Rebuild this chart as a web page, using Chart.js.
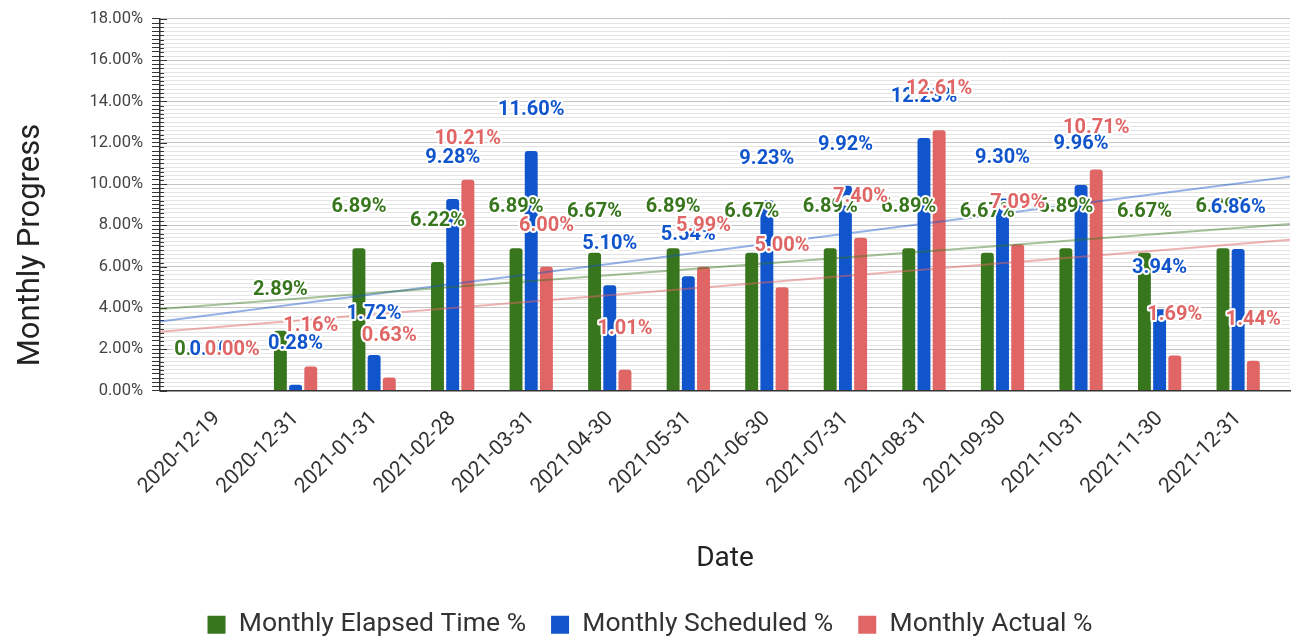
<!DOCTYPE html>
<html lang="en">
<head>
    <meta charset="UTF-8">
    <title>Monthly Progress</title>
    <script src="https://cdn.jsdelivr.net/npm/chart.js"></script>
    <style>
        body {
            margin: 0;
            background-color: #fff;
            font-family: Roboto, sans-serif;
        }

        .chart-container {
            position: relative;
            width: 1297px;
            height: 640px;
        }
    </style>
</head>
<body>
    <div class="chart-container">
        <canvas id="progressChart"></canvas>
    </div>
    <script>
        // Data
        const dates = ['2020-12-19', '2020-12-31', '2021-01-31', '2021-02-28', '2021-03-31', '2021-04-30', '2021-05-31',
            '2021-06-30', '2021-07-31', '2021-08-31', '2021-09-30', '2021-10-31', '2021-11-30', '2021-12-31'];
        const elapsed = [0.00, 2.89, 6.89, 6.22, 6.89, 6.67, 6.89, 6.67, 6.89, 6.89, 6.67, 6.89, 6.67, 6.89];
        const scheduled = [0.00, 0.28, 1.72, 9.28, 11.60, 5.10, 5.54, 9.23, 9.92, 12.23, 9.30, 9.96, 3.94, 6.86];
        const actual = [0.00, 1.16, 0.63, 10.21, 6.00, 1.01, 5.99, 5.00, 7.40, 12.61, 7.09, 10.71, 1.69, 1.44];

        // Trendline values at the left and right edge of the plot
        const elapsedTrend = [3.95, 8.07];
        const scheduledTrend = [3.34, 10.35];
        const actualTrend = [2.85, 7.30];

        const yTitle = 'Monthly Progress';
        const xMin = -0.726;
        const xMax = 13.66;

        const isMajor = v => Math.abs(v / 2 - Math.round(v / 2)) < 1e-6;

        // value labels above bars, with a white halo
        const valueLabels = {
            id: 'valueLabels',
            beforeDatasetsDraw(chart) {
                // small tick marks crossing into the plot
                const { ctx } = chart;
                const y = chart.scales.y;
                ctx.save();
                ctx.strokeStyle = '#333';
                ctx.lineWidth = 1;
                y.ticks.forEach(t => {
                    const py = Math.round(y.getPixelForValue(t.value)) + 0.5;
                    ctx.beginPath();
                    ctx.moveTo(y.right, py);
                    ctx.lineTo(y.right + (isMajor(t.value) ? 7 : 4), py);
                    ctx.stroke();
                });
                ctx.restore();
            },
            afterDatasetsDraw(chart) {
                const { ctx } = chart;
                ctx.save();
                ctx.font = 'bold 20px Roboto';
                ctx.textAlign = 'center';
                ctx.textBaseline = 'middle';
                ctx.lineJoin = 'round';
                ctx.lineWidth = 4;
                ctx.strokeStyle = '#fff';
                chart.data.datasets.forEach((ds, i) => {
                    if (ds.type !== 'bar') return;
                    chart.getDatasetMeta(i).data.forEach((bar, j) => {
                        const text = ds.data[j].y.toFixed(2) + '%';
                        const ty = bar.y - 41;
                        ctx.strokeText(text, bar.x, ty);
                        ctx.fillStyle = ds.backgroundColor;
                        ctx.fillText(text, bar.x, ty);
                    });
                });
                ctx.restore();
            },
            afterDraw(chart) {
                // y axis title, sitting a bit below the plot's middle like the original
                const { ctx } = chart;
                ctx.save();
                ctx.translate(31, 245);
                ctx.rotate(-Math.PI / 2);
                ctx.font = '31px Roboto';
                ctx.fillStyle = '#222';
                ctx.textAlign = 'center';
                ctx.textBaseline = 'middle';
                ctx.fillText(yTitle, 0, 0);
                ctx.restore();
            }
        };

        function barSet(label, values, color) {
            return {
                type: 'bar',
                label: label,
                data: values.map((v, i) => ({ x: i, y: v })),
                backgroundColor: color,
                borderRadius: 3,
                barPercentage: 0.85,
                categoryPercentage: 0.58,
                order: 1
            };
        }

        function trendSet(ends, color) {
            return {
                type: 'line',
                label: 'trend',
                data: [{ x: xMin, y: ends[0] }, { x: xMax, y: ends[1] }],
                borderColor: color,
                borderWidth: 2,
                pointRadius: 0,
                order: 0
            };
        }

        const ctx = document.getElementById('progressChart').getContext('2d');
        const chart = new Chart(ctx, {
            type: 'bar',
            data: {
                datasets: [
                    barSet('Monthly Elapsed Time %', elapsed, '#38761d'),
                    barSet('Monthly Scheduled %', scheduled, '#1155cc'),
                    barSet('Monthly Actual %', actual, '#e06666'),
                    trendSet(elapsedTrend, 'rgba(56, 118, 29, 0.45)'),
                    trendSet(scheduledTrend, 'rgba(17, 85, 204, 0.45)'),
                    trendSet(actualTrend, 'rgba(224, 102, 102, 0.5)')
                ]
            },
            options: {
                responsive: true,
                maintainAspectRatio: false,
                animation: false,
                layout: {
                    padding: { top: 17, left: 10, right: 7, bottom: -8 }
                },
                plugins: {
                    tooltip: { enabled: false },
                    legend: {
                        position: 'bottom',
                        labels: {
                            filter: item => item.text !== 'trend',
                            boxWidth: 18,
                            boxHeight: 18,
                            padding: 25,
                            color: '#333',
                            font: { family: 'Roboto', size: 26.5 }
                        }
                    }
                },
                scales: {
                    x: {
                        type: 'linear',
                        min: xMin,
                        max: xMax,
                        offset: false,
                        grid: { display: false, offset: false },
                        border: { display: true, color: '#333', width: 1.5 },
                        ticks: {
                            stepSize: 1,
                            includeBounds: false,
                            autoSkip: false,
                            maxRotation: 45,
                            minRotation: 45,
                            padding: 8,
                            color: '#333',
                            font: { family: 'Roboto', size: 21 },
                            callback: v => Number.isInteger(v) && dates[v] ? dates[v] : ''
                        },
                        title: {
                            display: true,
                            text: 'Date',
                            color: '#222',
                            font: { family: 'Roboto', size: 28 },
                            padding: { top: 0, bottom: 11 }
                        },
                        afterFit: s => {
                            s.height = 196;
                            s.paddingLeft = 0;
                            s.paddingRight = 0;
                        }
                    },
                    y: {
                        min: 0,
                        max: 18,
                        ticks: {
                            stepSize: 0.2,
                            maxTicksLimit: 200,
                            autoSkip: false,
                            padding: 9,
                            color: '#444',
                            font: { family: 'Roboto', size: 16.5 },
                            callback: v => isMajor(v) ? v.toFixed(2) + '%' : ''
                        },
                        grid: {
                            color: c => isMajor(c.tick.value) ? '#c4c4c4' : '#e4e4e4',
                            tickColor: '#333',
                            tickLength: 8
                        },
                        border: { color: '#333', width: 1.5 },
                        afterFit: s => { s.width = 150; }
                    }
                }
            },
            plugins: [valueLabels]
        });
    </script>
</body>
</html>
